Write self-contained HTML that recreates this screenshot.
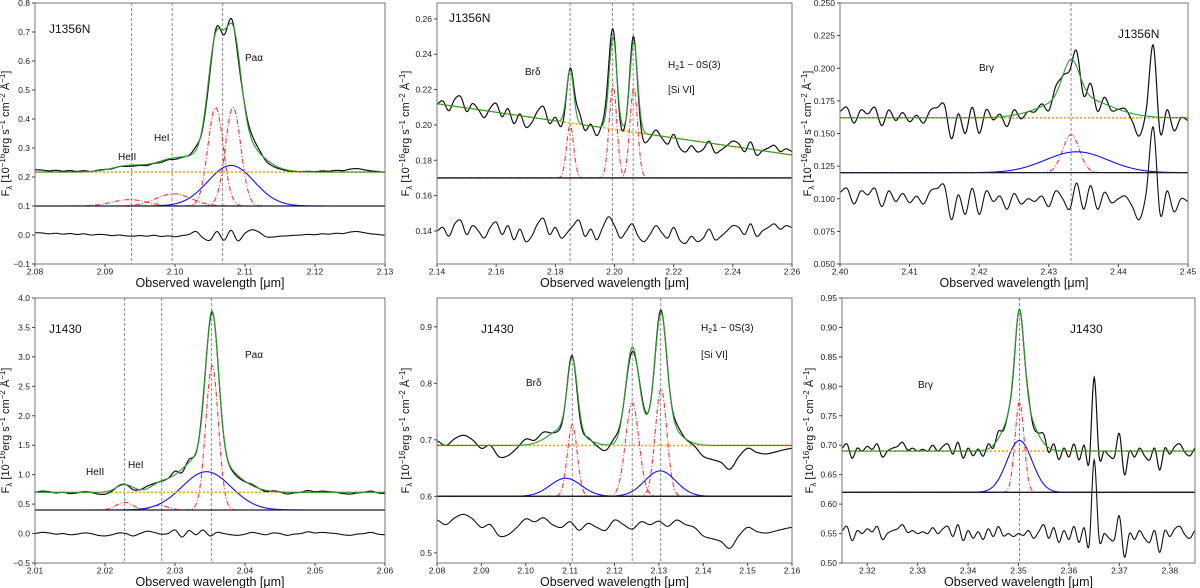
<!DOCTYPE html>
<html><head><meta charset="utf-8"><title>Spectral fits</title>
<style>
html,body{margin:0;padding:0;background:#fff;}
svg{display:block;font-family:"Liberation Sans",sans-serif;}
</style></head>
<body>
<svg id="fig" width="1200" height="588" viewBox="0 0 1200 588" xmlns="http://www.w3.org/2000/svg"></svg>
<script>
// ---------- DATA ----------
const p1Centers=[2.0935,2.0998,2.1058,2.1083,2.1080];
const p1Amps=[0.022,0.042,0.34,0.34,0.14];
const p1Sigmas=[0.0025,0.0025,0.0011,0.0011,0.0033];
const p1Types=['r','r','r','r','b'];
const p1Cont=[0.217,0.217];
const p1Base=0.10;
const p1ResOff=0.0;
const p1Res=[.008,.007,.004,.006,.003,.005,.002,.004,.000,.002,.001,-.002,.000,-.003,-.004,-.002,-.004,-.001,-.005,-.003,-.006,-.002,.002,.012,-.01,-.018,.012,-.018,.016,-.02,.006,.018,.01,-.006,-.007,-.004,-.003,-.001,.000,.002,.001,.004,.003,.006,.005,.010,.012,.008,.004,.002,-.001];
const p1Lines=[2.0938,2.0996,2.1068];
const p1XTicks=[2.08,2.09,2.10,2.11,2.12,2.13];
const p1YTicks=[-0.1,0.0,0.1,0.2,0.3,0.4,0.5,0.6,0.7,0.8];

const p2Centers=[2.185,2.1995,2.2065];
const p2Amps=[0.030,0.052,0.051];
const p2Sigmas=[0.0012,0.0013,0.0013];
const p2Types=['r','r','r'];
const p2Cont=[0.212,0.183];
const p2Base=0.17;
const p2ResOff=0.14;
const p2Res=[0,.002,-.003,.004,.006,-.002,.003,.000,-.004,.002,.005,-.002,.003,-.005,.001,-.006,-.003,.004,.007,-.002,.002,-.004,-.001,.003,.006,-.003,.001,-.005,.002,.008,.003,-.004,.000,.004,-.003,-.006,-.002,.003,-.001,-.004,.002,-.005,-.007,-.003,-.006,-.004,.001,-.005,-.003,.000,.003,.002,-.002,.004,-.003,.000,.002,.004,.001,.003,.002];
const p2Lines=[2.185,2.1993,2.2063];
const p2XTicks=[2.14,2.16,2.18,2.20,2.22,2.24,2.26];
const p2YTicks=[0.14,0.16,0.18,0.20,0.22,0.24,0.26];

const p3Centers=[2.4332,2.4340];
const p3Amps=[0.029,0.016];
const p3Sigmas=[0.0012,0.0045];
const p3Types=['r','b'];
const p3Cont=[0.162,0.162];
const p3Base=0.12;
const p3ResOff=0.10;
const p3Res=[.005,.008,-.004,.006,.003,.008,-.006,.006,-.002,.004,-.003,.002,-.004,.006,.008,.010,-.016,.003,-.012,.008,-.012,.006,-.002,.002,-.008,.004,-.004,.000,-.002,.002,-.006,.006,.000,-.008,.012,-.008,.010,-.008,.005,-.003,.000,.002,-.006,-.016,.005,.055,-.012,.006,-.010,.000,-.002];
const p3Lines=[2.4332];
const p3XTicks=[2.40,2.41,2.42,2.43,2.44,2.45];
const p3YTicks=[0.050,0.075,0.100,0.125,0.150,0.175,0.200,0.225,0.250];

const p4Centers=[2.0228,2.0278,2.0353,2.0345];
const p4Amps=[0.13,0.08,2.45,0.65];
const p4Sigmas=[0.0012,0.0012,0.0009,0.0035];
const p4Types=['r','r','r','b'];
const p4Cont=[0.70,0.70];
const p4Base=0.40;
const p4ResOff=0.0;
const p4Res=[.00,.02,.01,-.01,.00,-.02,-.01,.01,.00,-.03,-.04,-.02,.01,.00,-.04,.00,.04,.02,-.01,.00,.06,-.06,.05,-.02,.06,-.04,.02,.00,-.02,-.03,-.01,.02,.00,-.02,.01,.00,-.03,-.01,.00,.03,.01,.02,.01,.00,-.02,-.03,-.01,.00,.02,-.01,-.02];
const p4Lines=[2.0228,2.0281,2.0352];
const p4XTicks=[2.01,2.02,2.03,2.04,2.05,2.06];
const p4YTicks=[-0.5,0.0,0.5,1.0,1.5,2.0,2.5,3.0,3.5,4.0];

const p5Centers=[2.1105,2.1240,2.1305,2.1090,2.1303];
const p5Amps=[0.127,0.165,0.19,0.032,0.045];
const p5Sigmas=[0.0011,0.0015,0.0013,0.0035,0.0035];
const p5Types=['r','r','r','b','b'];
const p5Cont=[0.69,0.69];
const p5Base=0.60;
const p5ResOff=0.55;
const p5Res=[.008,.000,.012,.018,.010,-.005,.000,-.020,-.018,-.005,.010,.005,.012,.000,-.005,.005,-.010,.002,-.005,-.010,.008,.000,-.008,.005,.000,.006,-.003,.008,.000,-.005,-.020,-.025,-.030,-.042,-.020,-.005,-.012,-.015,-.012,-.008,-.005];
const p5Lines=[2.1105,2.1240,2.1304];
const p5XTicks=[2.08,2.09,2.10,2.11,2.12,2.13,2.14,2.15,2.16];
const p5YTicks=[0.5,0.6,0.7,0.8,0.9];

const p6Centers=[2.3502,2.3502];
const p6Amps=[0.153,0.088];
const p6Sigmas=[0.0009,0.0025];
const p6Types=['r','b'];
const p6Cont=[0.69,0.69];
const p6Base=0.62;
const p6ResOff=0.55;
const p6Res=[.005,.012,-.012,.005,.000,.008,.003,.012,-.010,.000,.005,.008,.015,.002,.005,.000,.003,.000,.010,.000,.008,.012,-.005,.015,-.012,.005,-.008,.003,-.010,.008,-.005,.012,-.004,.000,-.005,.000,-.003,.005,-.008,.003,.015,-.008,.010,-.015,.005,-.010,.012,-.015,.010,-.020,.125,-.010,.000,-.008,-.010,.030,-.040,.000,-.010,.005,-.008,-.015,.005,-.032,.005,-.005,.008,.012,-.002,-.008,.005];
const p6Lines=[2.3502];
const p6XTicks=[2.32,2.33,2.34,2.35,2.36,2.37,2.38];
const p6YTicks=[0.50,0.55,0.60,0.65,0.70,0.75,0.80,0.85,0.90,0.95];

// ---------- RENDER ----------
const NS="http://www.w3.org/2000/svg";
const svg=document.getElementById('fig');
function mk(tag,attrs,parent){const e=document.createElementNS(NS,tag);for(const k in attrs)e.setAttribute(k,attrs[k]);(parent||svg).appendChild(e);return e;}
function cr(vals,t){const n=vals.length;const i=Math.floor(t);const f=t-i;const g=k=>vals[Math.max(0,Math.min(n-1,k))];const p0=g(i-1),p1=g(i),p2=g(i+1),p3=g(i+2);return 0.5*((2*p1)+(-p0+p2)*f+(2*p0-5*p1+4*p2-p3)*f*f+(-p0+3*p1-3*p2+p3)*f*f*f);}
function gauss(x,c,a,s){return a*Math.exp(-(x-c)*(x-c)/(2*s*s));}

function panel(o){
  const g=mk('g',{});
  
  
  const sx=x=>o.L+(x-o.x0)/(o.x1-o.x0)*(o.R-o.L);
  const sy=y=>o.B-(y-o.y0)/(o.y1-o.y0)*(o.B-o.T);
  const cid='clip'+o.id;
  const cp=mk('clipPath',{id:cid},g);mk('rect',{x:o.L,y:o.T,width:o.R-o.L,height:o.B-o.T},cp);
  const pg=mk('g',{'clip-path':'url(#'+cid+')'},g);
  const N=700,xs=[];for(let i=0;i<=N;i++)xs.push(o.x0+(o.x1-o.x0)*i/N);
  const cont=x=>o.cont[0]+(o.cont[1]-o.cont[0])*(x-o.x0)/(o.x1-o.x0);
  const model=x=>{let s=cont(x);for(let k=0;k<o.c.length;k++)s+=gauss(x,o.c[k],o.a[k],o.s[k]);return s;};
  const res=x=>cr(o.res,(x-o.x0)/(o.x1-o.x0)*(o.res.length-1));
  const path=f=>xs.map((x,i)=>(i?'L':'M')+sx(x).toFixed(2)+','+sy(f(x)).toFixed(2)).join('');
  o.lines.forEach(v=>{const l=mk('line',{x1:sx(v),x2:sx(v),y1:o.T,y2:o.B,stroke:'#8c8c8c','stroke-width':1,'stroke-dasharray':'3,2'},pg);
    
    });
  for(let k=0;k<o.c.length;k++){
    const red=o.t[k]==='r';
    const p=mk('path',{d:path(x=>o.base+gauss(x,o.c[k],o.a[k],o.s[k])),fill:'none',stroke:red?'#ff3030':'#1010ff','stroke-width':1.1,'stroke-dasharray':red?'5,2,1,2':'none'},pg);
    
    
  }
  const bl=mk('line',{x1:o.L,x2:o.R,y1:sy(o.base),y2:sy(o.base),stroke:'#1a1a2e','stroke-width':1.3},pg);
  
  
  const cl=mk('path',{d:path(cont),fill:'none',stroke:'#ffa500','stroke-width':1.6,'stroke-dasharray':'2,2'},pg);
  
  
  const dl=mk('path',{d:path(x=>model(x)+res(x)),fill:'none',stroke:'#111','stroke-width':1.2},pg);
  
  
  const ml=mk('path',{d:path(model),fill:'none',stroke:'#2e9a2e','stroke-width':1.1},pg);
  
  
  const rl=mk('path',{d:path(x=>o.resOff+res(x)),fill:'none',stroke:'#111','stroke-width':1.1},pg);
  
  
  const fr=mk('rect',{x:o.L,y:o.T,width:o.R-o.L,height:o.B-o.T,fill:'none',stroke:'#777','stroke-width':1},g);
  
  
  o.xt.forEach(v=>{const X=sx(v);mk('line',{x1:X,x2:X,y1:o.B,y2:o.B+3,stroke:'#444'},g);
    const t=mk('text',{x:X,y:o.B+10.5,'font-size':8.5,'text-anchor':'middle',fill:'#222'},g);t.textContent=v.toFixed(2);
    
    });
  o.yt.forEach(v=>{const Y=sy(v);mk('line',{x1:o.L-3,x2:o.L,y1:Y,y2:Y,stroke:'#444'},g);
    const t=mk('text',{x:o.L-5,y:Y+3,'font-size':8.5,'text-anchor':'end',fill:'#222'},g);t.textContent=v.toFixed(o.yd).replace('-','\u2212');
    
    });
  const xl=mk('text',{x:(o.L+o.R)/2,y:o.B+23,'font-size':12.5,'text-anchor':'middle',fill:'#111'},g);xl.textContent='Observed wavelength [\u03bcm]';
  
  
  const yc=(o.T+o.B)/2;
  const yl=mk('text',{x:o.yx,y:yc,'font-size':11,'text-anchor':'middle',fill:'#111',transform:'rotate(-90 '+o.yx+' '+yc+')'},g);
  yl.innerHTML='F<tspan font-size="8" dy="3">\u03bb</tspan><tspan dy="-3"> [10</tspan><tspan font-size="8" dy="-4">\u221216</tspan><tspan dy="4">erg s</tspan><tspan font-size="8" dy="-4">\u22121</tspan><tspan dy="4"> cm</tspan><tspan font-size="8" dy="-4">\u22122</tspan><tspan dy="4"> \u00c5</tspan><tspan font-size="8" dy="-4">\u22121</tspan><tspan dy="4">]</tspan>';
  
  
  o.labels.forEach(l=>{const t=mk('text',{x:l[0],y:l[1],'font-size':l[3]||10,fill:'#111'},g);t.innerHTML=l[2];
    
    });
}
const H2='H<tspan font-size="7" dy="2">2</tspan><tspan dy="-2">1 \u2212 0S(3)</tspan>';
panel({id:1,name:'panel-j1356n-paalpha',L:35,R:385,T:3,B:264,x0:2.08,x1:2.13,y0:-0.1,y1:0.8,yd:1,yx:9,c:p1Centers,a:p1Amps,s:p1Sigmas,t:p1Types,cont:p1Cont,base:p1Base,resOff:p1ResOff,res:p1Res,lines:p1Lines,xt:p1XTicks,yt:p1YTicks,
  labels:[[49,33,'J1356N',12],[118,160,'HeII'],[154,141,'HeI'],[245,61,'Pa\u03b1']]});
panel({id:2,name:'panel-j1356n-brdelta',L:437,R:792,T:3,B:264,x0:2.14,x1:2.26,y0:0.1213,y1:0.269,yd:2,yx:409,c:p2Centers,a:p2Amps,s:p2Sigmas,t:p2Types,cont:p2Cont,base:p2Base,resOff:p2ResOff,res:p2Res,lines:p2Lines,xt:p2XTicks,yt:p2YTicks,
  labels:[[449,22,'J1356N',12],[525,75,'Br\u03b4'],[668,68,H2],[668,93,'[Si VI]']]});
panel({id:3,name:'panel-j1356n-brgamma',L:840,R:1188,T:3,B:264,x0:2.40,x1:2.45,y0:0.05,y1:0.25,yd:3,yx:811,c:p3Centers,a:p3Amps,s:p3Sigmas,t:p3Types,cont:p3Cont,base:p3Base,resOff:p3ResOff,res:p3Res,lines:p3Lines,xt:p3XTicks,yt:p3YTicks,
  labels:[[979,71,'Br\u03b3'],[1118,38,'J1356N',12]]});
panel({id:4,name:'panel-j1430-paalpha',L:35,R:385,T:298,B:563,x0:2.01,x1:2.06,y0:-0.5,y1:4.0,yd:1,yx:9,c:p4Centers,a:p4Amps,s:p4Sigmas,t:p4Types,cont:p4Cont,base:p4Base,resOff:p4ResOff,res:p4Res,lines:p4Lines,xt:p4XTicks,yt:p4YTicks,
  labels:[[49,333,'J1430',12],[86,475,'HeII'],[128,468,'HeI'],[245,358,'Pa\u03b1']]});
panel({id:5,name:'panel-j1430-brdelta',L:437,R:792,T:298,B:563,x0:2.08,x1:2.16,y0:0.482,y1:0.951,yd:1,yx:409,c:p5Centers,a:p5Amps,s:p5Sigmas,t:p5Types,cont:p5Cont,base:p5Base,resOff:p5ResOff,res:p5Res,lines:p5Lines,xt:p5XTicks,yt:p5YTicks,
  labels:[[481,333,'J1430',12],[526,386,'Br\u03b4'],[701,331,H2],[701,358,'[Si VI]']]});
panel({id:6,name:'panel-j1430-brgamma',L:842,R:1195,T:298,B:563,x0:2.315,x1:2.385,y0:0.50,y1:0.95,yd:2,yx:813,c:p6Centers,a:p6Amps,s:p6Sigmas,t:p6Types,cont:p6Cont,base:p6Base,resOff:p6ResOff,res:p6Res,lines:p6Lines,xt:p6XTicks,yt:p6YTicks,
  labels:[[1070,333,'J1430',12],[918,388,'Br\u03b3']]});
</script>
</body></html>
